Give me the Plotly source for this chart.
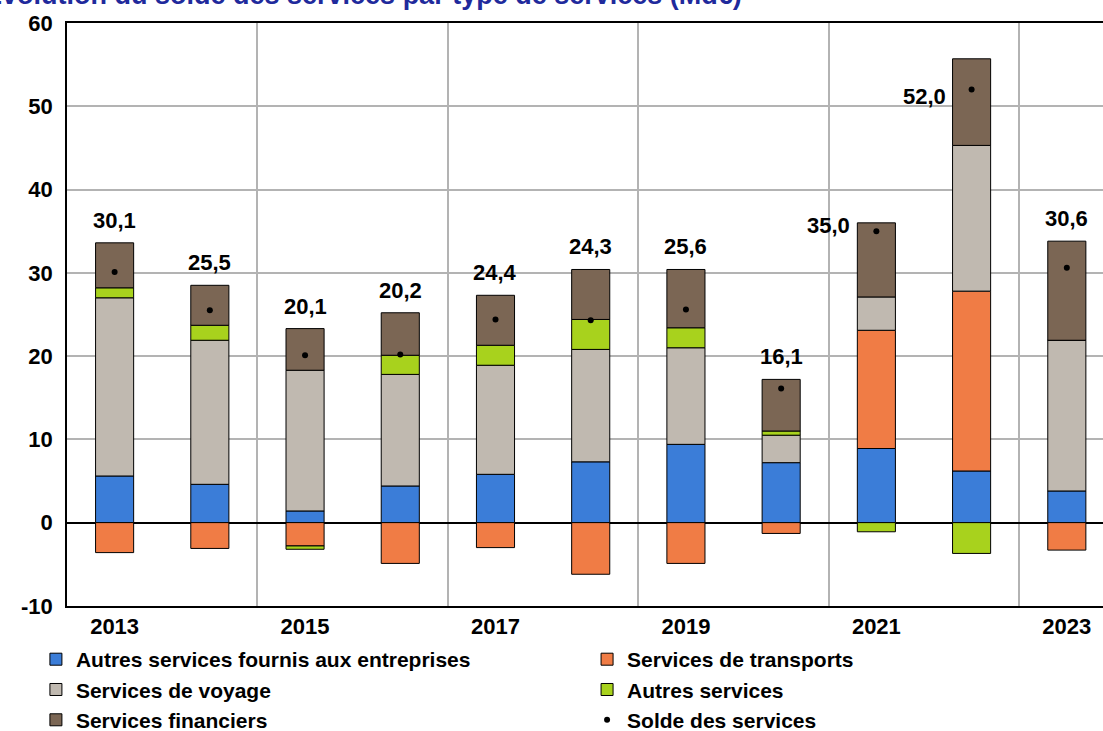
import plotly.graph_objects as go

# Solde des services par type (Md€)
years = [2013, 2014, 2015, 2016, 2017, 2018, 2019, 2020, 2021, 2022, 2023]
autres_entreprises = [5.6, 4.6, 1.4, 4.4, 5.8, 7.3, 9.4, 7.2, 8.9, 6.2, 3.8]
transports = [-3.6, -3.1, -2.8, -4.9, -3.0, -6.2, -4.9, -1.3, 14.2, 21.6, -3.3]
voyage = [21.4, 17.3, 16.9, 13.4, 13.1, 13.5, 11.6, 3.3, 4.0, 17.5, 18.1]
autres = [1.2, 1.8, -0.4, 2.3, 2.4, 3.6, 2.4, 0.5, -1.1, -3.7, 0.0]
financiers = [5.4, 4.8, 5.0, 5.1, 6.0, 6.0, 7.0, 6.2, 8.9, 10.4, 11.9]
solde = [30.1, 25.5, 20.1, 20.2, 24.4, 24.3, 25.6, 16.1, 35.0, 52.0, 30.6]

x_ticks = [2013, 2015, 2017, 2019, 2021, 2023]
y_ticks = [-10, 0, 10, 20, 30, 40, 50, 60]
y_tick_text = ["-10", "0", "10", "20", "30", "40", "50", "60"]

title = "Évolution du solde des services par type de services (Md€)"
# étiquettes placées à gauche de la barre (décalage vertical en px)
left_labels = {2021: 6, 2022: -7}

# (nom, valeurs, couleur, légende) : colonne gauche = legend, colonne droite = legend2
series = [
    ("Autres services fournis aux entreprises", autres_entreprises, "#3b7dd8", "legend"),
    ("Services de transports", transports, "#f07c45", "legend2"),
    ("Services de voyage", voyage, "#c0b9b0", "legend"),
    ("Autres services", autres, "#a8d21d", "legend2"),
    ("Services financiers", financiers, "#7b6654", "legend"),
]

FONT = "Liberation Sans, Arial, sans-serif"
LEG_FONT = dict(family=FONT, size=21, color="black", weight="bold")
LBL_FONT = dict(family=FONT, size=22, color="black", weight="bold")

fig = go.Figure()
for name, vals, color, leg in series:
    fig.add_trace(go.Bar(
        x=years, y=vals, name=name, width=0.4, legend=leg,
        marker=dict(color=color, line=dict(color="black", width=1)),
    ))

fig.add_trace(go.Scatter(
    x=years, y=solde, name="Solde des services", mode="markers", legend="legend2",
    marker=dict(color="black", size=6),
))

# étiquettes de valeur
for i, yr in enumerate(years):
    txt = f"{solde[i]:.1f}".replace(".", ",")
    if yr in left_labels:
        fig.add_annotation(x=yr, y=solde[i], text=txt, showarrow=False,
                           xanchor="right", yanchor="middle", xshift=-24,
                           yshift=left_labels[yr], font=LBL_FONT)
    else:
        top = sum(s[1][i] for s in series if s[1][i] > 0)
        fig.add_annotation(x=yr, y=top, text=txt, showarrow=False,
                           xanchor="center", yanchor="bottom", yshift=8,
                           font=LBL_FONT)

# titre (coupé en haut comme sur l'original)
fig.add_annotation(xref="paper", yref="paper", x=-0.082, y=1.019,
                   xanchor="left", yanchor="bottom", showarrow=False, text=title,
                   font=dict(family=FONT, size=27, color="#1f2a9c", weight="bold"))

LEG_Y = 0.1258
fig.update_layout(
    barmode="relative",
    width=1103, height=731,
    margin=dict(l=67, r=0, t=23, b=49),
    plot_bgcolor="white", paper_bgcolor="white",
    font=dict(family=FONT, color="black"),
    showlegend=True,
    legend=dict(x=-0.030, xref="paper", y=LEG_Y, yref="container",
                xanchor="left", yanchor="top", font=LEG_FONT, traceorder="normal"),
    legend2=dict(x=0.502, xref="paper", y=LEG_Y, yref="container",
                 xanchor="left", yanchor="top", font=LEG_FONT, traceorder="normal"),
    xaxis=dict(
        range=[2012.5, 2023.38],
        tickvals=x_ticks, ticks="", showgrid=False,
        showline=True, linecolor="black", linewidth=1.5, mirror=True,
        tickfont=dict(family=FONT, size=22, color="black", weight="bold"),
        minor=dict(tick0=2012.5, dtick=2, showgrid=True, gridcolor="#b3b3b3", gridwidth=1.5),
        zeroline=False,
    ),
    yaxis=dict(
        range=[-10, 60], tickvals=y_ticks, ticktext=y_tick_text, ticks="",
        showgrid=True, gridcolor="#b3b3b3", gridwidth=1.5,
        showline=True, linecolor="black", linewidth=1.5,
        zeroline=True, zerolinecolor="black", zerolinewidth=1.5,
        tickfont=dict(family=FONT, size=22, color="black", weight="bold"),
        ticklabelstandoff=8,
    ),
)

# pas de marge de page autour du graphique, pas de barre d'outils
fig.write_html("out.html", config={"displayModeBar": False},
               post_script="document.body.style.margin='0';")
